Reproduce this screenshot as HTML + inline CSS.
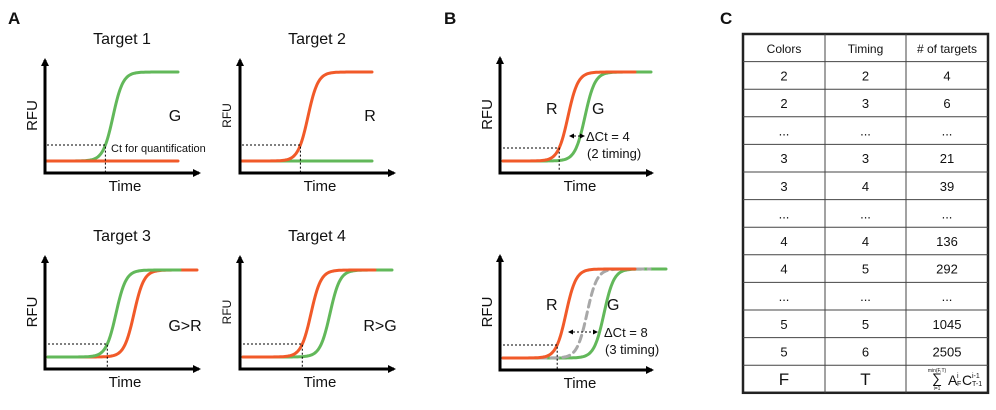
<!DOCTYPE html>
<html><head><meta charset="utf-8"><style>
body{margin:0;background:#fff;width:996px;height:405px;overflow:hidden}
svg text{font-family:"Liberation Sans",sans-serif;fill:#111}
</style></head><body>
<svg id="fig" width="996" height="405" viewBox="0 0 996 405" xmlns="http://www.w3.org/2000/svg">
<defs>
<marker id="ah" markerWidth="8" markerHeight="8" refX="6" refY="4" orient="auto" markerUnits="userSpaceOnUse"><path d="M0,0 L8,4 L0,8 Z" fill="#000"/></marker>
<marker id="sa" markerWidth="5" markerHeight="5" refX="4" refY="2.5" orient="auto-start-reverse" markerUnits="userSpaceOnUse"><path d="M0,0 L5,2.5 L0,5 Z" fill="#000"/></marker>
</defs>
<text x="8" y="24" font-size="17" font-weight="bold">A</text>
<text x="444" y="24" font-size="17" font-weight="bold">B</text>
<text x="720" y="24" font-size="17" font-weight="bold">C</text>
<g id="plots"></g>
<g id="table"></g>
</svg>
<script>
const panelNames=["Target 1","Target 2","Target 3","Target 4","",""];
const greenMid=[113,null,116,330,585,604];
const redMid=[null,308,134,311,568,566];
const grayMid=[null,null,null,null,null,587];
const panelLabels=["G","R","G>R","R>G","",""];
const tableHead=["Colors","Timing","# of targets"];
const colorsCol=["2","2","...","3","3","...","4","4","...","5","5","F"];
const timingCol=["2","3","...","3","4","...","4","5","...","5","6","T"];
const targetsCol=["4","6","...","21","39","...","136","292","...","1045","2505",""];

const NS="http://www.w3.org/2000/svg";
const G="#62b85a",R="#f15a29",GR="#a8a8a8";
function mk(tag,attrs,parent){const e=document.createElementNS(NS,tag);for(const k in attrs)e.setAttribute(k,attrs[k]);parent.appendChild(e);return e;}
function txt(x,y,s,size,parent,anchor){const t=mk("text",{x:x,y:y,"font-size":size,"text-anchor":anchor||"middle"},parent);t.textContent=s;return t;}
const plots=document.getElementById("plots");
const geo=[
 {ax:45,bot:173,tp:54,xe:205,base:161,plat:72,x0:47,thr:145},
 {ax:240,bot:173,tp:54,xe:400,base:161,plat:72,x0:242,thr:145},
 {ax:45,bot:369,tp:251,xe:205,base:357,plat:270,x0:48,thr:344},
 {ax:240,bot:369,tp:251,xe:400,base:357,plat:270,x0:243,thr:344},
 {ax:500,bot:173,tp:52,xe:658,base:161,plat:72,x0:503,thr:148},
 {ax:500,bot:370,tp:250,xe:658,base:358,plat:269,x0:503,thr:345}
];
function sig(g,mid,x1,col,dash,parent,name){
  let d="";
  for(let x=g.x0;x<=x1;x+=1){const y=g.base-(g.base-g.plat)/(1+Math.exp(-(x-mid)/5));d+=(x===g.x0?"M":"L")+x+","+y.toFixed(1);}
  const p=mk("path",{d:d,fill:"none",stroke:col,"stroke-width":3,"stroke-linecap":"round"},parent);
  if(dash)p.setAttribute("stroke-dasharray","7,5");
  
  
  return p;
}
function crossX(g,mid){const f=(g.base-g.thr)/(g.base-g.plat);return mid+5*Math.log(f/(1-f));}
geo.forEach((g,i)=>{
  const grp=mk("g",{},plots);
  
  
  if(panelNames[i]){const t=txt(g.ax+77,g.tp-10,panelNames[i],16,grp);}
  const gm=greenMid[i],rm=redMid[i],ym=grayMid[i];
  if(i===0){sig(g,gm,178,G,false,grp,'green-curve');sig(g,9999,178,R,false,grp,'red-curve');}
  else if(i===1){sig(g,9999,372,G,false,grp,'green-curve');sig(g,rm,372,R,false,grp,'red-curve');}
  else if(i===2){sig(g,rm,197,R,false,grp,'red-curve');sig(g,gm,180,G,false,grp,'green-curve');}
  else if(i===3){sig(g,gm,392,G,false,grp,'green-curve');sig(g,rm,375,R,false,grp,'red-curve');}
  else if(i===4){sig(g,gm,651,G,false,grp,'green-curve');sig(g,rm,635,R,false,grp,'red-curve');}
  else {sig(g,gm,666,G,false,grp,'green-curve');sig(g,ym,650,GR,true,grp,'gray-curve');sig(g,rm,635,R,false,grp,'red-curve');}
  const first=Math.min(gm==null?1e9:gm,rm==null?1e9:rm);
  const cxT=crossX(g,first);
  const l1=mk("path",{d:`M${g.x0},${g.thr}H${cxT.toFixed(1)}V${g.bot}`,fill:"none",stroke:"#000","stroke-width":1,"stroke-dasharray":"2,2"},grp);
  
  const ax=mk("path",{d:`M${g.ax},${g.bot}V${g.tp+6}`,stroke:"#000","stroke-width":3,"marker-end":"url(#ah)"},grp);
  
  const xx=mk("path",{d:`M${g.ax-1.5},${g.bot}H${g.xe-6}`,stroke:"#000","stroke-width":3,"marker-end":"url(#ah)"},grp);
  
  const tt=txt(g.ax+80,g.bot+18,"Time",15,grp);
  const small=(i===1||i===3);
  const ry=txt(0,0,"RFU",small?12:15,grp);ry.setAttribute("transform",`translate(${g.ax-(small?9:8)},${(g.tp+g.bot)/2+2}) rotate(-90)`);
  
  if(panelLabels[i]){const lb=txt(g.ax+(i>=2?140:130),g.bot-(i>=2?38:52),panelLabels[i],16,grp);}
});
{const t=txt(111,152,"Ct for quantification",11,plots,"start");}
function note(x,y,s,size,name){const t=txt(x,y,s,size,plots,"start");}
note(546,114,"R",16,'red-label');note(592,114,"G",16,'green-label');
note(546,310,"R",16,'red-label');note(607,310,"G",16,'green-label');
note(586,141,"ΔCt = 4",13,'delta-ct-label');note(587,158,"(2 timing)",13,'timing-label');
note(604,337,"ΔCt = 8",13,'delta-ct-label');note(605,354,"(3 timing)",13,'timing-label');
function darrow(x1,x2,y,name){const p=mk("path",{d:`M${x1},${y}H${x2}`,stroke:"#000","stroke-width":1,"stroke-dasharray":"2,2","marker-end":"url(#sa)","marker-start":"url(#sa)"},plots);}
darrow(570,584,136,'delta-ct-arrow');darrow(569,597,332,'delta-ct-arrow');
const tb=document.getElementById("table");
const cols=[743,825,906,988],tTop=34,rh=27.6,nr=13;
mk("rect",{x:743,y:tTop,width:245,height:rh*nr,fill:"none",stroke:"#222","stroke-width":2.5},tb);
for(let r=1;r<nr;r++){mk("line",{x1:743,x2:988,y1:tTop+r*rh,y2:tTop+r*rh,stroke:"#444","stroke-width":1},tb);}
[825,906].forEach(x=>mk("line",{x1:x,x2:x,y1:tTop,y2:tTop+rh*nr,stroke:"#444","stroke-width":1},tb));
const colsData=[colorsCol,timingCol,targetsCol];
tableHead.forEach((h,c)=>{const t=txt((cols[c]+cols[c+1])/2,tTop+rh/2+5,h,12,tb);});
for(let r=0;r<12;r++){for(let c=0;c<3;c++){
  const v=colsData[c][r];if(!v)continue;const last=r===11;
  const t=txt((cols[c]+cols[c+1])/2,tTop+(r+1)*rh+rh/2+(last?6:5),v,last?17:13,tb);
  }}
{const fx=947,fy=tTop+12*rh;
 const f=txt(fx-10,fy+18,"∑",14,tb);
 txt(fx-10,fy+7,"min(F,T)",5,tb);txt(fx-10,fy+25,"i=1",5,tb);
 txt(fx+1,fy+20,"A",14,tb,"start");txt(fx+10,fy+13,"i",7,tb,"start");txt(fx+10,fy+21,"F",7,tb,"start");
 txt(fx+15,fy+20,"C",14,tb,"start");txt(fx+25,fy+13,"i-1",7,tb,"start");txt(fx+25,fy+21,"T-1",7,tb,"start");}
</script>
</body></html>
